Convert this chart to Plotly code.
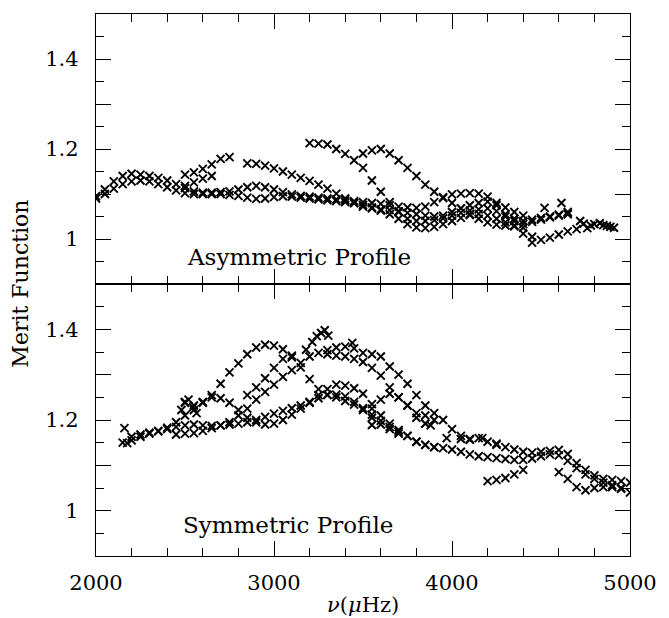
import numpy as np
import plotly.graph_objects as go

# Frequency grid spacing of the sampled merit-function curves (muHz)
STEP = 50

# ---------------- Asymmetric profile (upper panel) ----------------
asym_a_start = 2000
asym_a = [1.090, 1.100, 1.112, 1.122, 1.128, 1.130, 1.128, 1.122, 1.115, 1.108,
          1.102, 1.100, 1.100, 1.100, 1.100, 1.098, 1.096, 1.092, 1.089, 1.090,
          1.093, 1.095, 1.094, 1.092, 1.090, 1.088, 1.086, 1.084, 1.082, 1.080,
          1.076, 1.070, 1.063, 1.055, 1.045, 1.033, 1.026, 1.024, 1.027, 1.033,
          1.040, 1.047, 1.053, 1.056, 1.052, 1.045, 1.037, 1.028, 1.012, 0.992,
          0.998, 1.003, 1.010, 1.017, 1.022]

asym_b_start = 2000
asym_b = [1.095, 1.110, 1.128, 1.140, 1.145, 1.143, 1.140, 1.136, 1.130, 1.122,
          1.113, 1.106, 1.103, 1.103, 1.104, 1.106, 1.110, 1.115, 1.118, 1.115,
          1.110, 1.104, 1.099, 1.096, 1.094, 1.092, 1.090, 1.088, 1.086, 1.084,
          1.082, 1.080, 1.078, 1.075, 1.072, 1.070, 1.069, 1.072, 1.082, 1.093,
          1.099, 1.101, 1.102, 1.101, 1.094, 1.075, 1.055, 1.045, 1.040, 1.043,
          1.047, 1.050, 1.054, 1.057]

asym_c_start = 2500
asym_c = [1.143, 1.148, 1.156, 1.166, 1.178, 1.182]

asym_d_start = 2500
asym_d = [1.118, 1.126, 1.134, 1.140]

asym_e_start = 2850
asym_e = [1.168, 1.167, 1.163, 1.157, 1.150, 1.143, 1.136, 1.129, 1.121, 1.112,
          1.101, 1.090, 1.080, 1.072, 1.068, 1.066, 1.064, 1.062, 1.058, 1.055,
          1.052, 1.050, 1.052, 1.060, 1.068, 1.075, 1.080, 1.083, 1.080, 1.070,
          1.060, 1.052]

asym_f_start = 3200
asym_f = [1.213, 1.212, 1.210, 1.200, 1.189, 1.175, 1.158, 1.130, 1.105, 1.082,
          1.060, 1.045, 1.040, 1.040, 1.042, 1.046, 1.052, 1.058, 1.063, 1.066,
          1.068, 1.062, 1.050, 1.040, 1.025, 1.005]

asym_g_start = 3500
asym_g = [1.190, 1.197, 1.200, 1.190, 1.175, 1.158, 1.140, 1.121, 1.105, 1.091,
          1.080, 1.068, 1.055, 1.045, 1.037, 1.032, 1.030, 1.030, 1.033, 1.038,
          1.043, 1.048, 1.052, 1.055]

asym_extra_x = [4520, 4615, 4650, 4720, 4740, 4760, 4780, 4800, 4830, 4850,
                4870, 4890, 4910]
asym_extra_y = [1.069, 1.080, 1.060, 1.040, 1.034, 1.024, 1.030, 1.033, 1.035,
                1.031, 1.029, 1.027, 1.025]

# ---------------- Symmetric profile (lower panel) ----------------
sym_a_start = 2150
sym_a = [1.150, 1.163, 1.168, 1.172, 1.176, 1.183, 1.195, 1.210, 1.222, 1.238,
         1.255, 1.280, 1.305, 1.325, 1.345, 1.360, 1.366, 1.364, 1.356, 1.338,
         1.316, 1.290, 1.268, 1.256, 1.250, 1.242, 1.234, 1.226, 1.212, 1.198,
         1.185, 1.174, 1.165, 1.152, 1.145, 1.140, 1.138, 1.135, 1.130, 1.124,
         1.120, 1.118, 1.116, 1.114, 1.112, 1.112, 1.115, 1.120, 1.124, 1.122,
         1.110, 1.094, 1.080, 1.070, 1.062, 1.056, 1.050]

sym_b_start = 2200
sym_b = [1.155, 1.163, 1.170, 1.175, 1.180, 1.185, 1.188, 1.190, 1.188, 1.187,
         1.188, 1.195, 1.210, 1.225, 1.245, 1.262, 1.278, 1.295, 1.310, 1.326,
         1.340, 1.348, 1.354, 1.360, 1.362, 1.358, 1.348, 1.345, 1.340, 1.318,
         1.300, 1.280, 1.255, 1.232, 1.215, 1.200, 1.180, 1.158, 1.158, 1.160,
         1.152, 1.145, 1.140, 1.135, 1.130, 1.128, 1.130, 1.132, 1.134, 1.125,
         1.105, 1.090, 1.078, 1.070, 1.068, 1.065, 1.062]

sym_c_start = 2450
sym_c = [1.168, 1.170, 1.171, 1.176, 1.182, 1.188, 1.190, 1.192, 1.195, 1.200,
         1.207, 1.214, 1.220, 1.226, 1.232, 1.240, 1.255, 1.268, 1.278, 1.276,
         1.270, 1.258, 1.235, 1.210, 1.192, 1.178, 1.165, 1.152, 1.145, 1.140]

sym_d_start = 2500
sym_d = [1.240, 1.232, 1.240, 1.250, 1.248, 1.238, 1.222, 1.205, 1.195, 1.190,
         1.192, 1.200, 1.212, 1.225, 1.238, 1.248, 1.255, 1.256, 1.252, 1.240,
         1.222, 1.205, 1.190, 1.180, 1.170]

sym_e_start = 3300
sym_e = [1.345, 1.342, 1.340, 1.335, 1.328, 1.315, 1.298, 1.272, 1.250, 1.232,
         1.205, 1.192]

sym_f_start = 2850
sym_f = [1.255, 1.272, 1.292, 1.315, 1.335, 1.342]

sym_g_start = 3550
sym_g = [1.225, 1.245, 1.258, 1.250, 1.232, 1.215, 1.210, 1.200]

sym_h_start = 4200
sym_h = [1.065, 1.068, 1.072, 1.080, 1.090]

sym_i_start = 4600
sym_i = [1.085, 1.070, 1.052, 1.045, 1.050, 1.052, 1.052, 1.048, 1.040]

sym_extra_x = [2160, 2175, 2480, 2500, 2520, 2545, 2565, 3180, 3215, 3240,
               3265, 3285, 3305, 3440, 3550, 3850, 3880, 3970, 4050, 4100,
               4170, 4250]
sym_extra_y = [1.182, 1.149, 1.222, 1.238, 1.245, 1.228, 1.215, 1.355, 1.372,
               1.385, 1.392, 1.398, 1.386, 1.370, 1.189, 1.192, 1.188, 1.160,
               1.165, 1.156, 1.160, 1.148]

asym_curves = [(asym_a_start, asym_a), (asym_b_start, asym_b),
               (asym_c_start, asym_c), (asym_d_start, asym_d),
               (asym_e_start, asym_e), (asym_f_start, asym_f),
               (asym_g_start, asym_g)]
sym_curves = [(sym_a_start, sym_a), (sym_b_start, sym_b),
              (sym_c_start, sym_c), (sym_d_start, sym_d),
              (sym_e_start, sym_e), (sym_f_start, sym_f),
              (sym_g_start, sym_g), (sym_h_start, sym_h),
              (sym_i_start, sym_i)]

MARKER = dict(symbol="x-thin-open", size=8, color="black",
              line=dict(color="black", width=1.9))
FONT = "DejaVu Serif"

fig = go.Figure()


def add_curves(curves, extra_x, extra_y, xa, ya):
    for start, vals in curves:
        xs = start + STEP * np.arange(len(vals))
        fig.add_trace(go.Scatter(x=xs, y=vals, mode="markers", marker=MARKER,
                                 xaxis=xa, yaxis=ya, showlegend=False,
                                 hoverinfo="skip"))
    fig.add_trace(go.Scatter(x=extra_x, y=extra_y, mode="markers", marker=MARKER,
                             xaxis=xa, yaxis=ya, showlegend=False,
                             hoverinfo="skip"))


add_curves(asym_curves, asym_extra_x, asym_extra_y, "x", "y")
add_curves(sym_curves, sym_extra_x, sym_extra_y, "x2", "y2")

x_ticks = [2000, 3000, 4000, 5000]
x_labels = ["2000", "3000", "4000", "5000"]
y_ticks = [1.0, 1.1, 1.2, 1.3, 1.4]
y_labels = ["1", "", "1.2", "", "1.4"]

axis_common = dict(showline=True, linecolor="black", linewidth=1.3,
                   mirror="allticks", ticks="inside", ticklen=15, tickwidth=1,
                   tickcolor="black", showgrid=False, zeroline=False,
                   tickfont=dict(family=FONT, size=21, color="black"))

xaxis_common = dict(axis_common, range=[2000, 5000], tickvals=x_ticks,
                    ticktext=x_labels,
                    minor=dict(dtick=200, tick0=2000, ticklen=8, tickwidth=1,
                               tickcolor="black", ticks="inside"))
yaxis_common = dict(axis_common, range=[0.9, 1.5], tickvals=y_ticks,
                    ticktext=y_labels, ticklabelstandoff=12,
                    minor=dict(dtick=0.05, tick0=0.9, ticklen=8, tickwidth=1,
                               tickcolor="black", ticks="inside"))

SPLIT = 272 / 542

fig.update_layout(
    width=669, height=618,
    margin=dict(l=96, r=29, t=14, b=62),
    paper_bgcolor="white", plot_bgcolor="white",
    xaxis=dict(xaxis_common, anchor="y", domain=[0, 1], showticklabels=False,
               matches="x2"),
    yaxis=dict(yaxis_common, anchor="x", domain=[SPLIT, 1]),
    xaxis2=dict(xaxis_common, anchor="y2", domain=[0, 1], ticklabelstandoff=8),
    yaxis2=dict(yaxis_common, anchor="x2", domain=[0, SPLIT]),
    annotations=[
        dict(text="Asymmetric Profile", x=3140, y=0.96, xref="x", yref="y",
             xanchor="center", yanchor="middle", showarrow=False,
             font=dict(family=FONT, size=23, color="black")),
        dict(text="Symmetric Profile", x=3080, y=0.968, xref="x2", yref="y2",
             xanchor="center", yanchor="middle", showarrow=False,
             font=dict(family=FONT, size=23, color="black")),
        dict(text="Merit Function", x=-0.143, y=SPLIT, xref="paper",
             yref="paper", textangle=-90, xanchor="center", yanchor="middle",
             showarrow=False, font=dict(family=FONT, size=22, color="black")),
        dict(text="<i>ν</i>(<i>μ</i>Hz)", x=(368 - 96) / 544,
             y=(556 - 605) / 542, xref="paper", yref="paper",
             xanchor="center", yanchor="middle",
             showarrow=False, font=dict(family=FONT, size=21, color="black")),
    ],
)

fig.write_html("out.html")
